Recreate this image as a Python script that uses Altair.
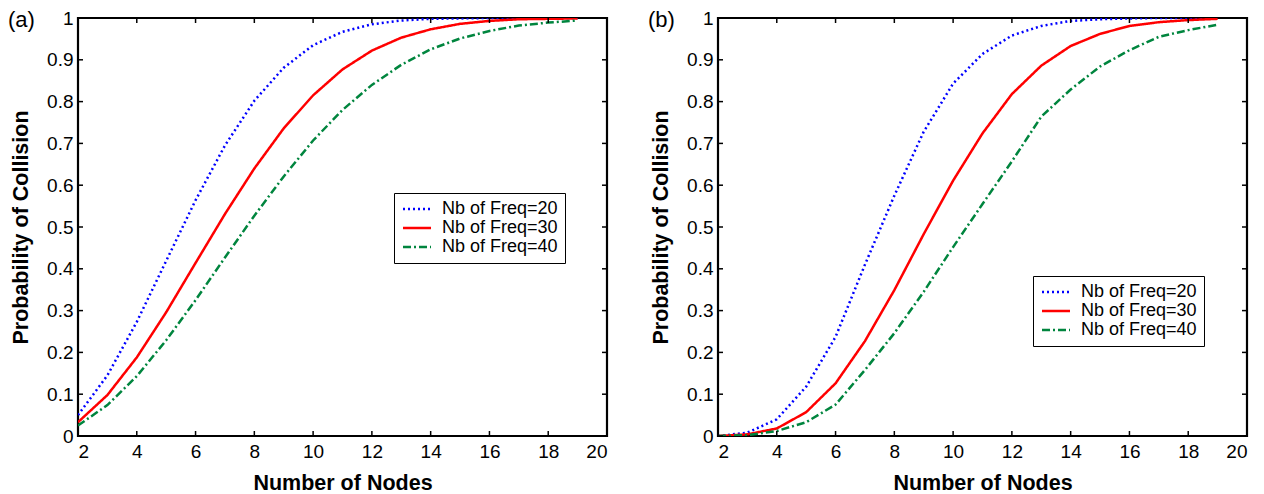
import altair as alt
import pandas as pd

# ---------------- data ----------------
nodes = [2, 3, 4, 5, 6, 7, 8, 9, 10, 11, 12, 13, 14, 15, 16, 17, 18, 19]
series = ["Nb of Freq=20", "Nb of Freq=30", "Nb of Freq=40"]

a_f20 = [0.050, 0.145, 0.273, 0.419, 0.564, 0.695, 0.802, 0.881, 0.935, 0.967,
         0.985, 0.994, 0.998, 0.999, 1.000, 1.000, 1.000, 1.000]
a_f30 = [0.033, 0.098, 0.188, 0.296, 0.414, 0.531, 0.640, 0.736, 0.815, 0.877,
         0.922, 0.953, 0.973, 0.986, 0.993, 0.997, 0.998, 0.999]
a_f40 = [0.025, 0.074, 0.143, 0.229, 0.325, 0.427, 0.527, 0.621, 0.707, 0.780,
         0.840, 0.888, 0.925, 0.951, 0.969, 0.982, 0.989, 0.994]

b_f20 = [0.000, 0.008, 0.040, 0.118, 0.237, 0.410, 0.575, 0.728, 0.843, 0.914,
         0.958, 0.981, 0.993, 0.997, 0.999, 1.000, 1.000, 1.000]
b_f30 = [0.000, 0.004, 0.018, 0.057, 0.126, 0.227, 0.349, 0.483, 0.611, 0.724,
         0.818, 0.886, 0.933, 0.962, 0.981, 0.990, 0.995, 0.998]
b_f40 = [0.000, 0.002, 0.012, 0.033, 0.075, 0.158, 0.246, 0.345, 0.452, 0.555,
         0.657, 0.764, 0.829, 0.884, 0.923, 0.955, 0.971, 0.984]

x_ticks = [2, 4, 6, 8, 10, 12, 14, 16, 18, 20]
y_ticks = [0, 0.1, 0.2, 0.3, 0.4, 0.5, 0.6, 0.7, 0.8, 0.9, 1]

colors = ["#0000ff", "#ff0000", "#00853e"]
dashes = [[2, 3], [1, 0], [8, 3, 2, 3]]

FONT = "Liberation Sans"
W, H = 529, 418
TICK = 5


def long_df(cols):
    rows = []
    for name, vals in zip(series, cols):
        for n, v in zip(nodes, vals):
            rows.append({"nodes": n, "prob": v, "series": name})
    return pd.DataFrame(rows)


def panel(cols, tag, legend_x, legend_y):
    df = long_df(cols)
    xs = alt.Scale(domain=[2, 20], nice=False, zero=False)
    ys = alt.Scale(domain=[0, 1], nice=False)

    lines = alt.Chart(df).mark_line(strokeWidth=2.5, clip=True).encode(
        x=alt.X("nodes:Q", scale=xs,
                axis=alt.Axis(values=x_ticks, title="Number of Nodes", grid=False,
                              ticks=False, domain=False, labelFontSize=19,
                              labelPadding=6, titleFontSize=21.5, titleFontWeight="bold",
                              titlePadding=11, labelFont=FONT, titleFont=FONT,
                              labelColor="black", titleColor="black")),
        y=alt.Y("prob:Q", scale=ys,
                axis=alt.Axis(values=y_ticks, format="~g", title="Probability of Collision",
                              grid=False, ticks=False, domain=False, labelFontSize=19,
                              labelPadding=5, titleFontSize=21.5, titleFontWeight="bold",
                              titlePadding=14, labelFont=FONT, titleFont=FONT,
                              labelColor="black", titleColor="black")),
        color=alt.Color("series:N", scale=alt.Scale(domain=series, range=colors),
                        legend=alt.Legend(orient="none", legendX=legend_x, legendY=legend_y,
                                          title=None, symbolType="M-2,0H2", symbolSize=196,
                                          symbolStrokeWidth=2.5, symbolOffset=7,
                                          symbolFillColor="transparent",
                                          labelFontSize=18, labelFont=FONT,
                                          labelColor="black", labelOffset=16,
                                          padding=7, rowPadding=1, strokeColor="black",
                                          fillColor="white", labelLimit=300)),
        strokeDash=alt.StrokeDash("series:N", scale=alt.Scale(domain=series, range=dashes),
                                  legend=None),
        detail="series:N",
    )

    xt = pd.DataFrame({"t": x_ticks})
    yt = pd.DataFrame({"t": y_ticks})
    top_ticks = alt.Chart(xt).mark_rule(color="black", strokeWidth=1.5).encode(
        x=alt.X("t:Q", scale=xs), y=alt.value(0), y2=alt.value(TICK))
    bot_ticks = alt.Chart(xt).mark_rule(color="black", strokeWidth=1.5).encode(
        x=alt.X("t:Q", scale=xs), y=alt.value(H), y2=alt.value(H - TICK))
    left_ticks = alt.Chart(yt).mark_rule(color="black", strokeWidth=1.5).encode(
        y=alt.Y("t:Q", scale=ys), x=alt.value(0), x2=alt.value(TICK))
    right_ticks = alt.Chart(yt).mark_rule(color="black", strokeWidth=1.5).encode(
        y=alt.Y("t:Q", scale=ys), x=alt.value(W), x2=alt.value(W - TICK))

    label = alt.Chart(pd.DataFrame({"lab": [tag]})).mark_text(
        align="left", baseline="middle", fontSize=22, font=FONT, color="black"
    ).encode(text="lab:N", x=alt.value(-70), y=alt.value(2))

    return alt.layer(lines, top_ticks, bot_ticks, left_ticks, right_ticks, label).properties(
        width=W, height=H)


pa = panel([a_f20, a_f30, a_f40], "(a)", 316, 175)
pb = panel([b_f20, b_f30, b_f40], "(b)", 315, 258)

chart = alt.hconcat(pa, pb, spacing=111, bounds="flush").resolve_scale(
    color="independent", strokeDash="independent"
).resolve_legend(color="independent", strokeDash="independent").properties(
    padding={"left": -2, "top": -1, "right": 0, "bottom": 0}
).configure(background="white").configure_view(stroke="black", strokeWidth=2.2)

chart.save("out.html", embed_options={"renderer": "svg", "actions": False})
